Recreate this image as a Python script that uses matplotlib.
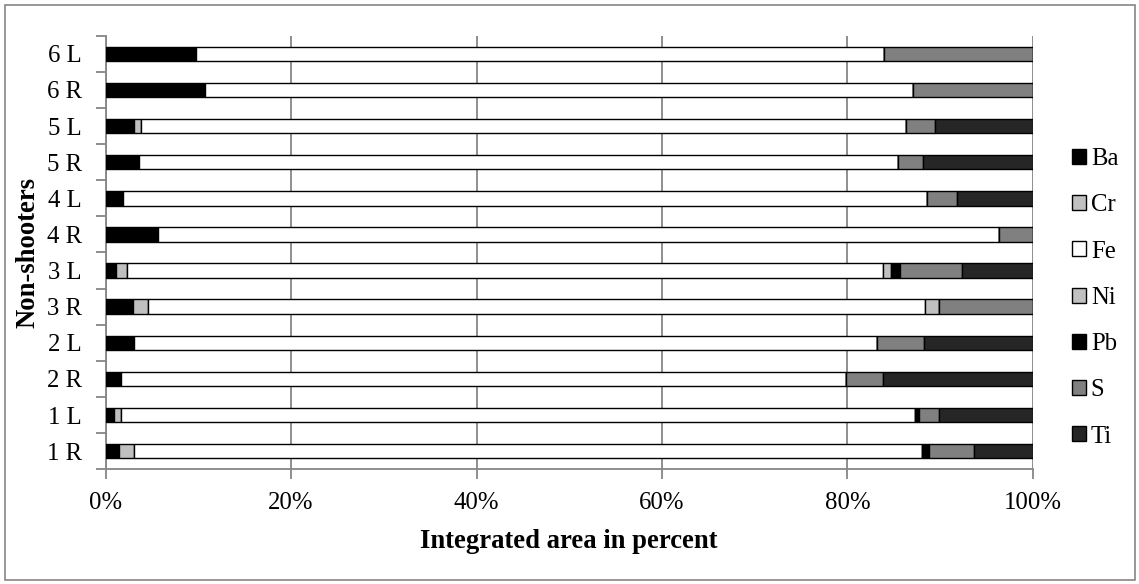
from matplotlib import pyplot as plt
from matplotlib.patches import Rectangle
from matplotlib.ticker import PercentFormatter
import numpy as np

plt.rcParams['font.family'] = ['Liberation Serif', 'DejaVu Serif']

samples = ['1 R', '1 L', '2 R', '2 L', '3 R', '3 L', '4 R', '4 L', '5 R', '5 L', '6 R', '6 L']
elements = ['Ba', 'Cr', 'Fe', 'Ni', 'Pb', 'S', 'Ti']

# percent of integrated area, samples bottom to top
ba = [1.4, 0.9, 1.65, 3.0, 2.9, 1.1, 5.6, 1.9, 3.6, 3.0, 10.7, 9.7]
cr = [1.6, 0.7, 0.0, 0.0, 1.65, 1.2, 0.0, 0.0, 0.0, 0.8, 0.0, 0.0]
fe = [85.1, 85.7, 78.25, 80.2, 83.8, 81.5, 90.8, 86.7, 81.9, 82.5, 76.4, 74.3]
ni = [0.0, 0.0, 0.0, 0.0, 1.5, 0.9, 0.0, 0.0, 0.0, 0.0, 0.0, 0.0]
pb = [0.7, 0.4, 0.0, 0.0, 0.0, 1.0, 0.0, 0.0, 0.0, 0.0, 0.0, 0.0]
s = [4.9, 2.2, 4.0, 5.1, 10.2, 6.7, 3.6, 3.2, 2.7, 3.2, 12.9, 16.0]
ti = [6.3, 10.1, 16.1, 11.7, 0.0, 7.6, 0.0, 8.2, 11.8, 10.5, 0.0, 0.0]

series = [ba, cr, fe, ni, pb, s, ti]
colors = ['#000000', '#c0c0c0', '#ffffff', '#c0c0c0', '#000000', '#808080', '#262626']
grey = '#868686'

fig = plt.figure(figsize=(11.39, 5.84), dpi=100)
ax = fig.add_axes([0.0928, 0.1964, 0.8139, 0.7425])

y = np.arange(len(samples))
left = np.zeros(len(samples))
for name, vals, col in zip(elements, series, colors):
    frac = np.array(vals) / 100.0
    ax.barh(y, frac, left=left, height=0.4, color=col, edgecolor='black',
            linewidth=1.0, label=name, zorder=3)
    left += frac

ax.set_xlim(0, 1)
ax.set_ylim(-0.5, len(samples) - 0.5)
ax.set_xticks(np.arange(0, 1.01, 0.2))
ax.xaxis.set_major_formatter(PercentFormatter(1.0, decimals=0))
ax.set_yticks(y)
ax.set_yticklabels(samples)
ax.set_yticks(np.arange(-0.5, len(samples), 1.0), minor=True)
ax.tick_params(axis='y', which='major', length=0, pad=17, labelsize=17.8)
ax.tick_params(axis='y', which='minor', length=7, color=grey, width=1.3)
ax.tick_params(axis='x', length=7, color=grey, width=1.3, labelsize=17.8, pad=9)
ax.grid(axis='x', color=grey, linewidth=1.3, zorder=0)
ax.set_axisbelow(True)

for side in ['top', 'right']:
    ax.spines[side].set_visible(False)
for side in ['left', 'bottom']:
    ax.spines[side].set_color(grey)
    ax.spines[side].set_linewidth(1.3)

ax.set_xlabel('Integrated area in percent', fontsize=19.2, fontweight='bold', labelpad=11)
ax.set_ylabel('Non-shooters', fontsize=19.2, fontweight='bold', labelpad=5)

handles, labels = ax.get_legend_handles_labels()
fig.legend(handles, labels, loc='center left', bbox_to_anchor=(0.9306, 0.49),
           frameon=False, fontsize=17.8, handlelength=0.55, handleheight=0.55,
           handletextpad=0.2, labelspacing=0.98, borderpad=0)

fig.patches.append(Rectangle((5 / 1139, 4 / 584), 1130 / 1139, 575 / 584,
                             transform=fig.transFigure, fill=False,
                             edgecolor=grey, linewidth=1.2))

plt.savefig('out.png', dpi=100)
